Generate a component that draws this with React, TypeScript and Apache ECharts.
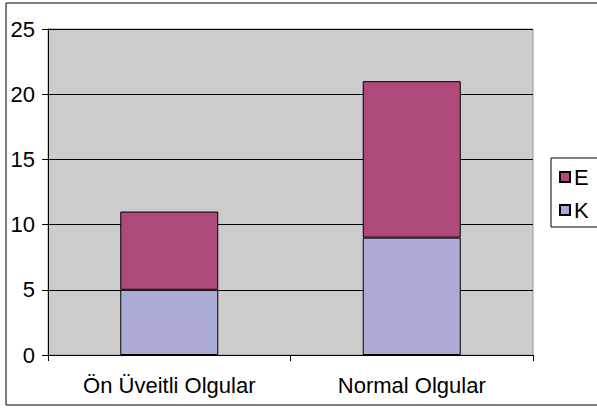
import React, { useEffect, useRef } from "react";
import * as echarts from "echarts";

const categories = ["Ön Üveitli Olgular", "Normal Olgular"];
const seriesK = [5, 9];
const seriesE = [6, 12];
const legendNames = ["E", "K"];
const yMin = 0;
const yMax = 25;
const yStep = 5;

const FONT = "'Liberation Sans', Arial, sans-serif";

export default function App() {
  const ref = useRef<HTMLDivElement>(null);

  useEffect(() => {
    if (!ref.current) return;
    const chart = echarts.init(ref.current, undefined, { renderer: "svg" });
    chart.setOption({
      animation: false,
      backgroundColor: "#FFFFFF",
      textStyle: { fontFamily: FONT, color: "#000" },
      grid: {
        left: 48,
        top: 29,
        right: 64,
        bottom: 53,
        show: true,
        backgroundColor: "#CCCCCC",
        borderColor: "#999999",
        borderWidth: 1,
      },
      legend: {
        orient: "vertical",
        data: legendNames,
        left: 551,
        top: 158,
        padding: [8, 40, 6, 8],
        itemGap: 11,
        itemWidth: 10,
        itemHeight: 10,
        icon: "rect",
        borderColor: "#000",
        borderWidth: 1,
        backgroundColor: "#FFFFFF",
        textStyle: { fontFamily: FONT, fontSize: 22, color: "#000", padding: [0, 0, 0, -1] },
      },
      graphic: [
        {
          type: "rect",
          shape: { x: 6, y: 3, width: 600, height: 402 },
          style: { fill: "none", stroke: "#000", lineWidth: 1 },
          silent: true,
          z: 100,
        },
      ],
      xAxis: {
        type: "category",
        data: categories,
        boundaryGap: true,
        axisLine: { show: true, lineStyle: { color: "#000", width: 1 } },
        axisTick: { show: true, length: 6, lineStyle: { color: "#000" } },
        axisLabel: { fontFamily: FONT, fontSize: 22, color: "#000", margin: 19 },
        splitLine: { show: false },
      },
      yAxis: {
        type: "value",
        min: yMin,
        max: yMax,
        interval: yStep,
        axisLine: { show: true, lineStyle: { color: "#000", width: 1 } },
        axisTick: { show: true, length: 6, lineStyle: { color: "#000" } },
        axisLabel: { fontFamily: FONT, fontSize: 22, color: "#000", margin: 13 },
        splitLine: { show: true, lineStyle: { color: "#000", width: 1 } },
      },
      series: [
        {
          name: "K",
          type: "bar",
          stack: "total",
          data: seriesK,
          barWidth: 98,
          itemStyle: { color: "#ABABD6", borderColor: "#000", borderWidth: 1 },
          z: 3,
        },
        {
          name: "E",
          type: "bar",
          stack: "total",
          data: seriesE,
          barWidth: 98,
          itemStyle: { color: "#AD4A7A", borderColor: "#000", borderWidth: 1 },
          z: 3,
        },
      ],
    });
    return () => chart.dispose();
  }, []);

  return (
    <div
      ref={ref}
      style={{ position: "fixed", left: 0, top: 0, width: 597, height: 408 }}
    />
  );
}
